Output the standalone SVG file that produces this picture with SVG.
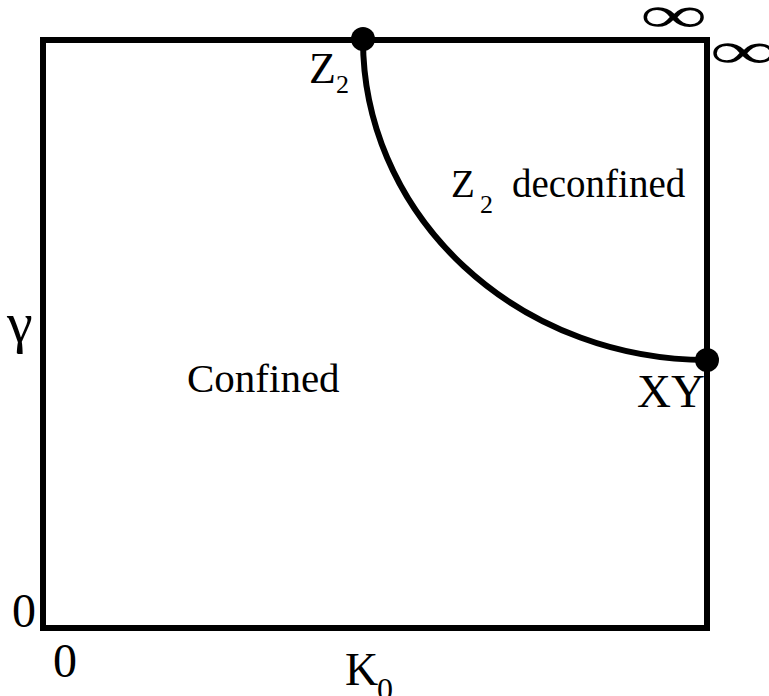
<svg xmlns="http://www.w3.org/2000/svg" width="769" height="696" viewBox="0 0 769 696">
<style>
text{font-family:"Liberation Serif","Times New Roman",serif;fill:#000}
.ln{fill:none;stroke:#000;stroke-width:6}
.inf{font-size:90px}
</style>
<rect width="769" height="696" fill="#fff"/>
<g id="connectors">
<path id="frame" class="ln" d="M43,40 H707 V628 H43 Z" stroke-linejoin="miter"/>
<path id="boundary" class="ln" d="M363,40 A344,320 0 0 0 707,360"/>
</g>
<g id="node-z2"><circle cx="363" cy="39" r="12"/><text x="309" y="83" font-size="44">Z</text><text x="336" y="93" font-size="26">2</text></g>
<g id="node-xy"><circle cx="707" cy="360" r="12"/><text x="637" y="407" font-size="47">XY</text></g>
<g id="label-confined"><text x="187" y="392" font-size="41">Confined</text></g>
<g id="label-deconfined"><text x="451" y="197" font-size="39">Z</text><text x="480" y="213" font-size="26">2</text><text x="512" y="197" font-size="39">deconfined</text></g>
<g id="axis-labels">
<text x="7" y="342" font-size="58">γ</text>
<text x="12" y="627" font-size="48">0</text>
<text x="53" y="677" font-size="48">0</text>
<text x="345" y="685" font-size="46">K</text><text x="377" y="700" font-size="32">0</text>
<text class="inf" x="609.5" y="55.4" transform="matrix(1.05 0 0 0.57 0 0)">∞</text>
<text class="inf" x="676" y="118.6" transform="matrix(1.05 0 0 0.57 0 0)">∞</text>
</g>
</svg>
